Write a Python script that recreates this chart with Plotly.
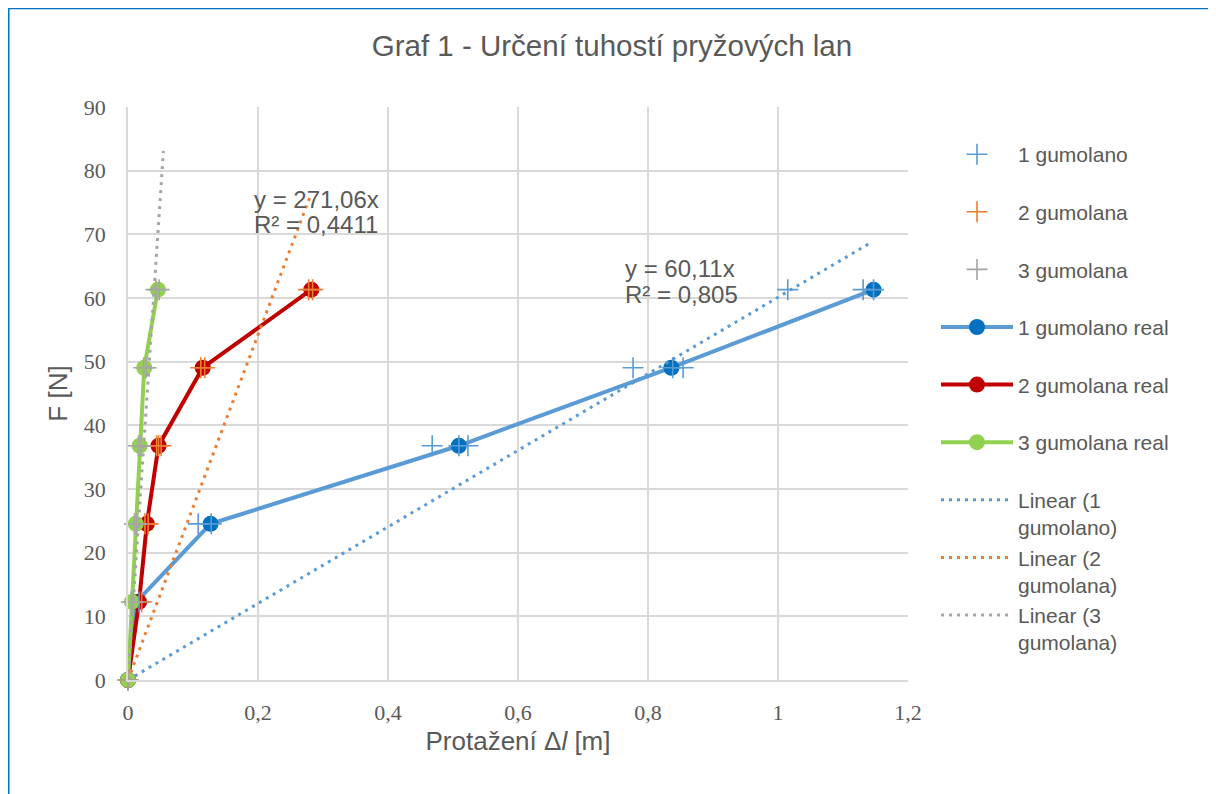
import plotly.graph_objects as go

# ---------------- data ----------------
F_levels = [0, 12.26, 24.53, 36.79, 49.05, 61.31]

x1_real = [0, 0.013, 0.127, 0.509, 0.836, 1.147]
x2_real = [0, 0.017, 0.029, 0.047, 0.115, 0.282]
x3_real = [0, 0.006, 0.012, 0.018, 0.025, 0.046]

raw1_x = [0, 0.017, 0.108, 0.128, 0.468, 0.509, 0.523, 0.777, 0.838, 0.854, 1.015, 1.131, 1.147]
raw1_F = [0, 12.26, 24.53, 24.53, 36.79, 36.79, 36.79, 49.05, 49.05, 49.05, 61.31, 61.31, 61.31]
raw2_x = [0, 0.021, 0.026, 0.031, 0.044, 0.047, 0.051, 0.112, 0.118, 0.278, 0.284]
raw2_F = [0, 12.26, 24.53, 24.53, 36.79, 36.79, 36.79, 49.05, 49.05, 61.31, 61.31]
raw3_x = [0, 0.005, 0.008, 0.010, 0.013, 0.016, 0.020, 0.024, 0.028, 0.043, 0.048]
raw3_F = [0, 12.26, 12.26, 24.53, 24.53, 36.79, 36.79, 49.05, 49.05, 61.31, 61.31]

trend1_x = [0, 1.142]
trend1_F = [0, 68.65]
trend2_x = [0, 0.280]
trend2_F = [0, 75.9]
trend3_x = [0, 0.0545]
trend3_F = [0, 83.1]

eq_lines = ["y = 60,11x", "R² = 0,805", "y = 271,06x", "R² = 0,4411", "y = 1524,5x", "R² = 0,7462"]

x_ticks = [0, 0.2, 0.4, 0.6, 0.8, 1, 1.2]
y_ticks = [0, 10, 20, 30, 40, 50, 60, 70, 80, 90]

# ---------------- style ----------------
SANS = "Liberation Sans, Arial, sans-serif"
SERIF = "Liberation Serif, Times New Roman, serif"
TXT = "#595959"
GRID = "#d9d9d9"
C1, C2, C3 = "#5B9BD5", "#ED7D31", "#A5A5A5"

fig = go.Figure()

# real lines (drawn first)
fig.add_trace(go.Scatter(x=x1_real, y=F_levels, mode="lines+markers", name="1 gumolano real<br> ",
                         line=dict(color=C1, width=4), marker=dict(color="#0070C0", size=16),
                         legendrank=4, cliponaxis=False))
fig.add_trace(go.Scatter(x=x2_real, y=F_levels, mode="lines+markers", name="2 gumolana real<br> ",
                         line=dict(color="#C00000", width=4), marker=dict(color="#C00000", size=16),
                         legendrank=5, cliponaxis=False))
fig.add_trace(go.Scatter(x=x3_real, y=F_levels, mode="lines+markers", name="3 gumolana real<br> ",
                         line=dict(color="#92D050", width=4), marker=dict(color="#92D050", size=16),
                         legendrank=6, cliponaxis=False))

# trendlines
for tx, tf, col, nm, rk in [(trend1_x, trend1_F, C1, "Linear (1<br>gumolano)", 7),
                            (trend2_x, trend2_F, C2, "Linear (2<br>gumolana)", 8),
                            (trend3_x, trend3_F, C3, "Linear (3<br>gumolana)", 9)]:
    fig.add_trace(go.Scatter(x=tx, y=tf, mode="lines", name=nm,
                             line=dict(color=col, width=3, dash="3px,5px"), legendrank=rk))

# raw measurements
for rx, rf, col, nm, rk in [(raw1_x, raw1_F, C1, "1 gumolano<br> ", 1),
                            (raw2_x, raw2_F, C2, "2 gumolana<br> ", 2),
                            (raw3_x, raw3_F, C3, "3 gumolana<br> ", 3)]:
    fig.add_trace(go.Scatter(x=rx, y=rf, mode="markers", name=nm, cliponaxis=False,
                             marker=dict(symbol="cross-thin", size=15, line=dict(color=col, width=1.6)),
                             legendrank=rk))

# trendline equation labels (one annotation per text line)
eq_pos = [(0.7615, 64.7), (0.7615, 60.5), (0.191, 75.4), (0.191, 71.5), (-0.023, 84.0), (-0.023, 80.1)]
for (lx, ly), txt in zip(eq_pos, eq_lines):
    fig.add_annotation(x=lx, y=ly, text=txt, showarrow=False, xanchor="left", yanchor="middle",
                       align="left", font=dict(family=SANS, size=24, color=TXT))

# outer blue border (left and top visible)
fig.add_shape(type="line", xref="paper", yref="paper", x0=-0.1532, x1=-0.1532, y0=1.1722, y1=-0.25,
              line=dict(color="#0070C0", width=2))
fig.add_shape(type="line", xref="paper", yref="paper", x0=-0.1532, x1=1.45, y0=1.1722, y1=1.1722,
              line=dict(color="#0070C0", width=2))

fig.update_layout(
    width=1208, height=786,
    margin=dict(l=120, r=308, t=99, b=114),
    paper_bgcolor="white", plot_bgcolor="white",
    separators=", ",
    title=dict(text="Graf 1 - Určení tuhostí pryžových lan", x=0.5, xref="container", xanchor="center",
               y=0.9517, yref="container", yanchor="middle",
               font=dict(family=SANS, size=29.5, color=TXT)),
    xaxis=dict(range=[0, 1.2], tickvals=x_ticks, showgrid=True, gridcolor=GRID, gridwidth=1.5,
               zeroline=False, showline=True, linecolor=GRID, linewidth=1.5, ticks="",
               tickfont=dict(family=SERIF, size=22, color=TXT), ticklabelstandoff=12,
               title=dict(text="Protažení Δ<i>l</i> [m]", font=dict(family=SANS, size=26, color=TXT), standoff=8)),
    yaxis=dict(range=[0, 90], tickvals=y_ticks, showgrid=True, gridcolor=GRID, gridwidth=1.5,
               zeroline=False, showline=True, linecolor=GRID, linewidth=1.5, ticks="",
               tickfont=dict(family=SERIF, size=22, color=TXT), ticklabelstandoff=16,
               title=dict(text="F [N]", font=dict(family=SANS, size=26, color=TXT), standoff=9)),
    legend=dict(x=1.0359, xanchor="left", y=0.9528, yanchor="top", valign="top",
                font=dict(family=SANS, size=21, color=TXT), bgcolor="rgba(0,0,0,0)",
                itemwidth=72),
    showlegend=True,
)

fig.write_html("out.html")
